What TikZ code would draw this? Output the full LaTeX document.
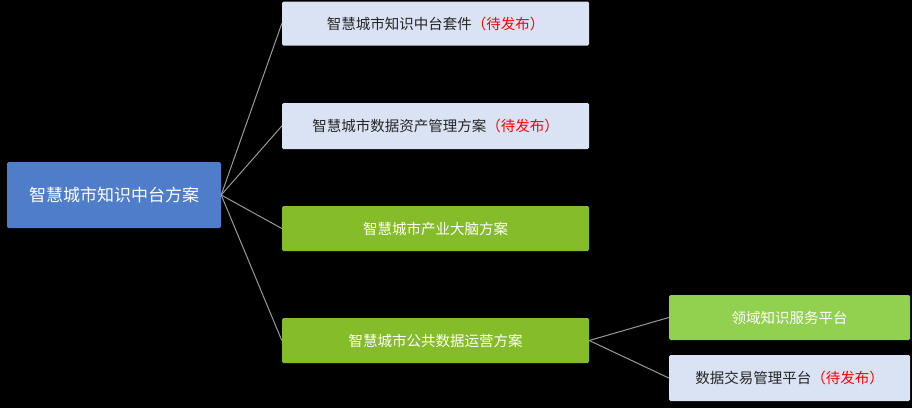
\documentclass[tikz,border=0pt]{standalone}
\usepackage{fontspec}
\setmainfont{Noto Sans CJK SC}
\begin{document}
\begin{tikzpicture}[x=1pt,y=-1pt,
  box/.style={draw=none,rounded corners=1.5pt,minimum height=45pt,inner sep=0pt,font=\fontsize{14.5}{16}\selectfont},
  pale/.style={box,fill=paleblue,text=black!85},
  grn/.style={box,fill=leaf,text=white},
  lgrn/.style={box,fill=lightleaf,text=white},
  conn/.style={draw=gray!80,line width=1pt}]
\definecolor{paleblue}{HTML}{DAE3F3}
\definecolor{leaf}{HTML}{85BC2A}
\definecolor{lightleaf}{HTML}{92D050}
\definecolor{rootblue}{HTML}{4F7DC9}
\definecolor{pend}{HTML}{FF0000}
\fill[black] (0,0) rectangle (912,408);
\useasboundingbox (0,0) rectangle (912,408);
\node[box,fill=rootblue,text=white,minimum width=214pt,minimum height=66pt,font=\fontsize{17}{19}\selectfont] (root) at (114,195) {智慧城市知识中台方案};
\node[pale,minimum width=307pt,minimum height=44pt] (b1) at (435.5,23.5) {智慧城市知识中台套件\textcolor{pend}{（待发布）}};
\node[pale,minimum width=307pt,minimum height=46pt] (b2) at (435.5,126) {智慧城市数据资产管理方案\textcolor{pend}{（待发布）}};
\node[grn,minimum width=307pt] (b3) at (435.5,228.5) {智慧城市产业大脑方案};
\node[grn,minimum width=307pt] (b4) at (435.5,340.5) {智慧城市公共数据运营方案};
\node[lgrn,minimum width=241pt] (b5) at (789.5,317.5) {领域知识服务平台};
\node[pale,minimum width=241pt,minimum height=46pt] (b6) at (789.5,378) {数据交易管理平台\textcolor{pend}{（待发布）}};
\foreach \t in {b1,b2,b3,b4} \draw[conn] (root.east) -- (\t.west);
\draw[conn] (b4.east) -- (b5.west);
\draw[conn] (b4.east) -- (b6.west);
\end{tikzpicture}
\end{document}
